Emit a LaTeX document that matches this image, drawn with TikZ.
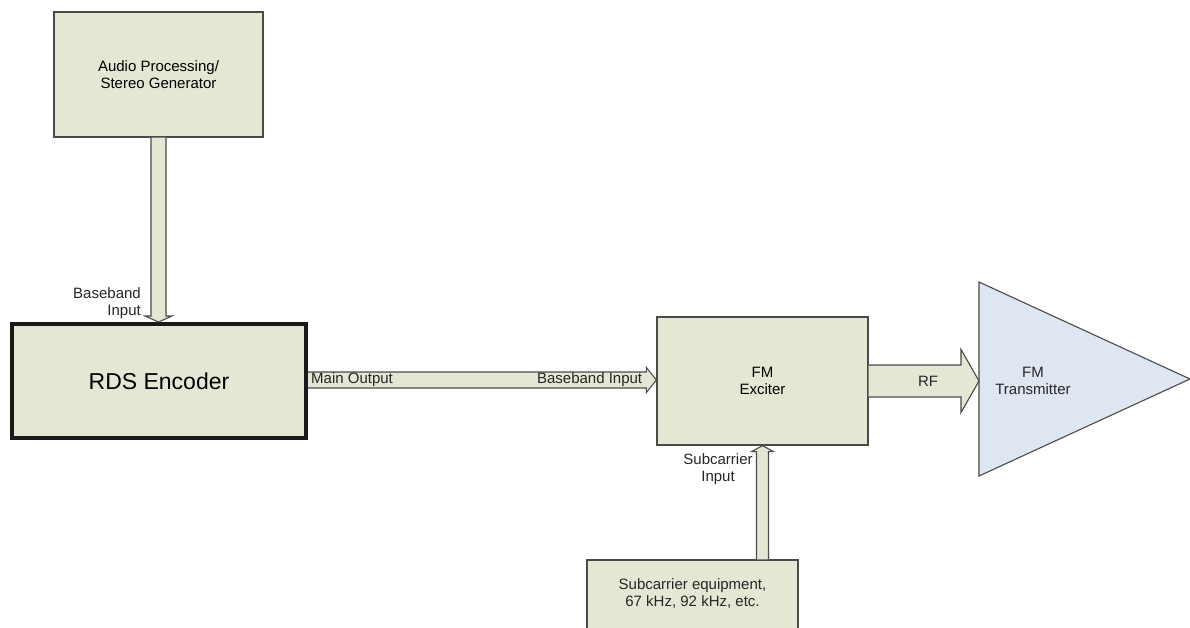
\documentclass[tikz,border=0pt]{standalone}
\usepackage{fontspec}
\setmainfont{Liberation Sans}
\usetikzlibrary{calc}
\definecolor{boxfill}{HTML}{E5E7D5}
\definecolor{trifill}{HTML}{DEE6F1}
\definecolor{edge}{HTML}{4A4A4A}
\begin{document}
\begin{tikzpicture}[x=1pt,y=-1pt,
  blk/.style={draw=edge,fill=boxfill,line width=1.3pt,minimum width=#1,inner sep=0pt,align=center,font=\fontsize{15}{17}\selectfont},
  barrow/.style={draw=edge,fill=boxfill,line width=1.1pt,line join=miter},
  lbl/.style={inner sep=0pt,font=\fontsize{15}{17}\selectfont,text=black!85}]
\useasboundingbox (0,0) rectangle (1190,628);
\begin{scope}
\clip (0,0) rectangle (1190,628);
% boxes
\node[blk=209pt,minimum height=125pt] (audio) at (158.5,74.5) {Audio Processing/\\Stereo Generator};
\node[blk=294pt,minimum height=114pt,line width=4pt,draw=black!90,font=\fontsize{23}{26}\selectfont] (rds) at (159,381) {RDS Encoder};
\node[blk=211pt,minimum height=128pt] (exc) at (762.5,381) {FM\\Exciter};
\node[blk=211pt,minimum height=76pt] (sub) at (692.5,598) {};
\node[lbl,align=center] (subtxt) at (692.5,594) {Subcarrier equipment,\\67 kHz, 92 kHz, etc.};
% transmitter triangle
\coordinate (tA) at (979,282);
\coordinate (tB) at (979,476);
\coordinate (tC) at (1190,379);
\draw[draw=edge,fill=trifill,line width=1.1pt] (tA) -- (tC) -- (tB) -- cycle;
\node[lbl,align=center] (txtx) at (1033,381) {FM\\Transmitter};
% audio -> rds
\coordinate (a1) at (audio.south);
\coordinate (a2) at (audio.south |- rds.north);
\draw[barrow] ($(a1)+(-7.5,0)$) -- ($(a2)+(-7.5,-6)$) -- ($(a2)+(-13.5,-6)$) -- (a2) -- ($(a2)+(13.5,-6)$) -- ($(a2)+(7.5,-6)$) -- ($(a1)+(7.5,0)$);
% rds -> exciter
\coordinate (b1) at ($(rds.east)+(0,-1)$);
\coordinate (b2) at (b1 -| exc.west);
\draw[barrow] ($(b1)+(0,-8)$) -- ($(b2)+(-10,-8)$) -- ($(b2)+(-10,-12.5)$) -- (b2) -- ($(b2)+(-10,12.5)$) -- ($(b2)+(-10,8)$) -- ($(b1)+(0,8)$);
% exciter -> transmitter
\coordinate (c1) at (exc.east);
\coordinate (c2) at (exc.east -| tA);
\draw[barrow] ($(c1)+(0,-16)$) -- ($(c2)+(-18,-16)$) -- ($(c2)+(-18,-31.5)$) -- (c2) -- ($(c2)+(-18,31.5)$) -- ($(c2)+(-18,16)$) -- ($(c1)+(0,16)$);
% subcarrier -> exciter
\coordinate (d2) at (exc.south);
\coordinate (d1) at (exc.south |- sub.north);
\draw[barrow] ($(d1)+(-6,0)$) -- ($(d2)+(-6,6)$) -- ($(d2)+(-11,6)$) -- (d2) -- ($(d2)+(11,6)$) -- ($(d2)+(6,6)$) -- ($(d1)+(6,0)$);
% labels
\node[lbl,align=right,anchor=east] (l1) at (141,303) {Baseband\\Input};
\node[lbl,anchor=west] (l2) at ($(rds.east)+(3,-1)$) {Main Output};
\node[lbl,anchor=east] (l3) at ($(exc.west)+(-14,-1)$) {Baseband Input};
\node[lbl] (l4) at (928,381) {RF};
\node[lbl,align=center] (l5) at (718,469) {Subcarrier\\Input};
\end{scope}
\end{tikzpicture}
\end{document}
